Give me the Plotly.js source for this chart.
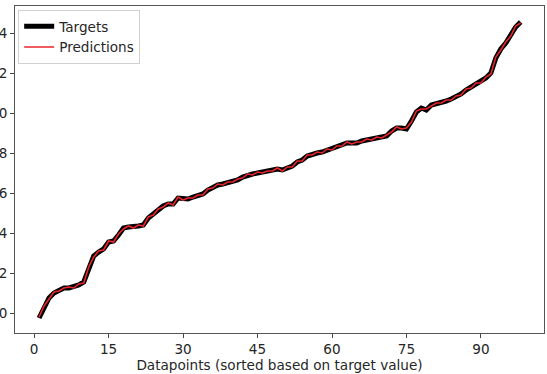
<!DOCTYPE html>
<html>
<head>
<meta charset="utf-8">
<script src="https://cdn.plot.ly/plotly-3.0.1.min.js"></script>
<style>html,body{margin:0;padding:0;background:#fff;}#chart{width:547px;height:374px;}</style>
</head>
<body>
<div id="chart"></div>
<script>
const indices = [1,2,3,4,5,6,7,8,9,10,11,12,13,14,15,16,17,18,19,20,21,22,23,24,25,26,27,28,29,30,31,32,33,34,35,36,37,38,39,40,41,42,43,44,45,46,47,48,49,50,51,52,53,54,55,56,57,58,59,60,61,62,63,64,65,66,67,68,69,70,71,72,73,74,75,76,77,78,79,80,81,82,83,84,85,86,87,88,89,90,91,92,93,94,95,96,97,98];
const targets = [-0.025,0.03,0.075,0.10,0.115,0.125,0.125,0.13,0.14,0.155,0.225,0.285,0.305,0.32,0.355,0.36,0.39,0.425,0.43,0.43,0.435,0.44,0.475,0.495,0.515,0.535,0.545,0.545,0.575,0.57,0.57,0.58,0.585,0.595,0.615,0.63,0.64,0.645,0.65,0.66,0.665,0.68,0.69,0.695,0.70,0.705,0.705,0.715,0.72,0.715,0.725,0.735,0.755,0.765,0.785,0.795,0.80,0.805,0.815,0.82,0.83,0.84,0.85,0.85,0.85,0.86,0.865,0.87,0.875,0.88,0.885,0.91,0.925,0.925,0.92,0.96,1.005,1.025,1.015,1.04,1.045,1.055,1.06,1.07,1.08,1.095,1.115,1.13,1.145,1.155,1.175,1.20,1.275,1.32,1.35,1.39,1.43,1.455];
const predictions = [-0.02,0.035,0.07,0.105,0.11,0.125,0.13,0.125,0.145,0.15,0.23,0.28,0.31,0.315,0.36,0.355,0.395,0.42,0.435,0.425,0.44,0.435,0.48,0.49,0.52,0.53,0.55,0.54,0.58,0.565,0.575,0.575,0.59,0.59,0.62,0.625,0.645,0.64,0.655,0.655,0.67,0.675,0.695,0.69,0.705,0.70,0.71,0.71,0.725,0.71,0.73,0.73,0.76,0.76,0.79,0.79,0.805,0.80,0.82,0.815,0.835,0.835,0.855,0.845,0.855,0.855,0.87,0.865,0.88,0.875,0.89,0.905,0.93,0.92,0.925,0.955,1.01,1.02,1.02,1.035,1.05,1.05,1.065,1.065,1.085,1.09,1.12,1.125,1.15,1.15,1.18,1.195,1.28,1.315,1.355,1.385,1.435,1.45];
const yTickVals = [0.0,0.2,0.4,0.6,0.8,1.0,1.2,1.4];
const yTickText = ['0.0','0.2','0.4','0.6','0.8','1.0','1.2','1.4'];
const xTickVals = [0,15,30,45,60,75,90];

const font = {family: 'DejaVu Sans, sans-serif', size: 13.6, color: '#262626'};
const data = [
  {x: indices, y: targets, type: 'scatter', mode: 'lines', name: 'Targets',
   line: {color: '#000000', width: 5, shape: 'linear'}},
  {x: indices, y: predictions, type: 'scatter', mode: 'lines', name: 'Predictions',
   line: {color: '#e8262b', width: 1.6, shape: 'linear'}}
];
const layout = {
  width: 547, height: 374,
  margin: {l: 15, r: 3, t: 6, b: 41, pad: 0},
  paper_bgcolor: '#ffffff', plot_bgcolor: '#ffffff',
  font: font,
  showlegend: true,
  legend: {x: 0.006, y: 0.988, xanchor: 'left', yanchor: 'top',
    bordercolor: '#d0d0d0', borderwidth: 1, bgcolor: 'rgba(255,255,255,0.9)',
    font: font, tracegroupgap: 0},
  xaxis: {range: [-3.85, 102.7], tickvals: xTickVals, ticktext: xTickVals.map(String),
    ticks: 'outside', ticklen: 4, tickwidth: 1, tickcolor: '#444',
    showgrid: false, zeroline: false, showline: true, linecolor: '#555', linewidth: 1, mirror: true,
    automargin: false,
    title: {text: 'Datapoints (sorted based on target value)', font: font, standoff: 3},
    tickfont: font},
  yaxis: {range: [-0.1, 1.535], tickvals: yTickVals, ticktext: yTickText,
    ticks: 'outside', ticklen: 4, tickwidth: 1, tickcolor: '#444',
    showgrid: false, zeroline: false, showline: true, linecolor: '#555', linewidth: 1, mirror: true,
    automargin: false, tickfont: font}
};
Plotly.newPlot('chart', data, layout, {displayModeBar: false, staticPlot: true});
</script>
</body>
</html>
